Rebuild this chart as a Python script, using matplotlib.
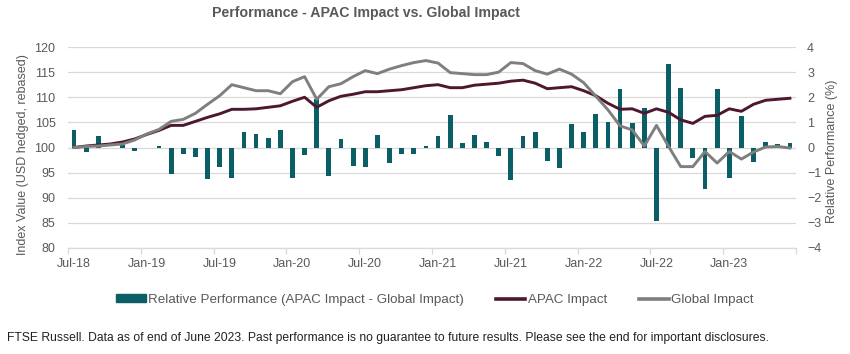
import numpy as np
import pandas as pd
import matplotlib
matplotlib.use("Agg")
import matplotlib.pyplot as plt
from matplotlib.patches import Rectangle
from matplotlib.lines import Line2D

plt.rcParams['font.family'] = ['Liberation Sans', 'DejaVu Sans']

# monthly data, Jul-18 .. Jun-23
months = pd.date_range('2018-07-01', periods=60, freq='MS').strftime('%b-%y').tolist()

relative = [0.68, -0.16, 0.46, -0.03, 0.09, -0.12, -0.02, 0.07, -1.04, -0.24,
            -0.36, -1.27, -0.76, -1.23, 0.62, 0.54, 0.39, 0.68, -1.23, -0.28,
            1.93, -1.12, 0.35, -0.72, -0.76, 0.50, -0.60, -0.24, -0.24, 0.07,
            0.46, 1.30, 0.19, 0.50, 0.23, -0.32, -1.31, 0.46, 0.62, -0.52,
            -0.80, 0.94, 0.62, 1.34, 1.02, 2.34, 0.98, 1.58, -2.91, 3.33,
            2.38, -0.40, -1.67, 2.34, -1.20, 1.26, -0.56, 0.23, 0.13, 0.19]

apac = [100.0, 100.3, 100.5, 100.7, 101.1, 101.7, 102.6, 103.4, 104.4, 104.4,
        105.2, 106.0, 106.7, 107.6, 107.6, 107.7, 108.0, 108.3, 109.2, 110.0,
        108.0, 109.3, 110.2, 110.6, 111.1, 111.1, 111.3, 111.5, 111.9, 112.3,
        112.5, 111.9, 111.9, 112.4, 112.6, 112.8, 113.2, 113.4, 112.8, 111.7,
        111.9, 112.1, 111.3, 110.3, 108.8, 107.6, 107.7, 106.8, 107.7, 107.0,
        105.5, 104.8, 106.2, 106.4, 107.7, 107.2, 108.6, 109.4, 109.6, 109.8]

global_impact = [100.0, 100.2, 100.3, 100.5, 100.7, 101.5, 102.7, 103.6, 105.2, 105.6,
                 106.8, 108.6, 110.3, 112.5, 111.9, 111.3, 111.3, 110.7, 113.1, 114.1,
                 109.6, 112.1, 112.7, 114.1, 115.3, 114.7, 115.6, 116.3, 116.9, 117.3,
                 116.8, 114.9, 114.7, 114.5, 114.5, 115.0, 116.9, 116.7, 115.3, 114.6,
                 115.6, 114.6, 112.9, 110.2, 107.5, 104.3, 103.5, 100.3, 104.4, 100.2,
                 96.2, 96.2, 99.2, 96.9, 99.2, 97.7, 99.1, 100.1, 100.2, 99.9]

bar_col = '#0B5D66'
apac_col = '#4E1730'
glob_col = '#7F7F7F'
txt_col = '#595959'
grid_col = '#D9D9D9'

x = np.arange(len(months))

fig = plt.figure(figsize=(8.5, 3.54), dpi=100)
ax = fig.add_axes([68/850, 1-248/354, (796-68)/850, (248-47)/354])
ax_r = ax.twinx()
ax.set_zorder(2)
ax_r.set_zorder(1)
ax.patch.set_visible(False)

# bars on the right axis
ax_r.bar(x, relative, width=0.4, color=bar_col, zorder=2)
ax_r.set_ylim(-4, 4)
ax_r.set_yticks(range(-4, 5))
ax_r.grid(axis='y', color=grid_col, linewidth=0.9, zorder=0)
ax_r.set_axisbelow(True)
ax_r.tick_params(axis='y', length=0, pad=8, labelsize=9, labelcolor=txt_col)

# lines on the left axis
ax.plot(x, apac, color=apac_col, lw=2.1, solid_joinstyle='round')
ax.plot(x, global_impact, color=glob_col, lw=2.1, solid_joinstyle='round')
ax.set_ylim(80, 120)
ax.set_yticks(range(80, 121, 5))
ax.tick_params(axis='y', length=0, pad=9, labelsize=9, labelcolor=txt_col)

ax.set_xlim(-0.5, len(months) - 0.5)
ax.set_xticks(x[::6])
ax.set_xticklabels(months[::6])
ax.set_xticks(np.arange(-0.5, len(months), 6), minor=True)
ax.tick_params(axis='x', which='major', length=0, pad=7, labelsize=9, labelcolor=txt_col)
ax.tick_params(axis='x', which='minor', length=4, color=grid_col, width=0.9)

for a in (ax, ax_r):
    for s in ('top', 'left', 'right'):
        a.spines[s].set_visible(False)
ax_r.spines['bottom'].set_visible(False)
ax.spines['bottom'].set_color(grid_col)
ax.spines['bottom'].set_linewidth(0.9)

fig.text(23/850, 1-155/354, 'Index Value (USD hedged, rebased)', rotation=90,
         ha='center', va='center', fontsize=9, color=txt_col)
fig.text(832/850, 1-151/354, 'Relative Performance (%)', rotation=90,
         ha='center', va='center', fontsize=9, color=txt_col)

fig.text(366/850, 1-13/354, 'Performance - APAC Impact vs. Global Impact',
         ha='center', va='center', fontsize=10.2, fontweight='bold', color=txt_col)

handles = [Rectangle((0, 0), 1, 1, color=bar_col),
           Line2D([], [], color=apac_col, lw=2.6),
           Line2D([], [], color=glob_col, lw=2.6)]
labels = ['Relative Performance (APAC Impact - Global Impact)', 'APAC Impact', 'Global Impact']
fig.legend(handles, labels, loc='center', bbox_to_anchor=(435/850, 1-300/354), ncol=3,
           frameon=False, fontsize=9.6, labelcolor=txt_col, handlelength=2.2,
           handleheight=0.5, handletextpad=0.2, columnspacing=2.4)

fig.text(7/850, 1-338/354,
         'FTSE Russell. Data as of end of June 2023. Past performance is no guarantee to future results. '
         'Please see the end for important disclosures.',
         ha='left', va='center', fontsize=8.75, color='#222222')

fig.savefig('out.png', dpi=100)
